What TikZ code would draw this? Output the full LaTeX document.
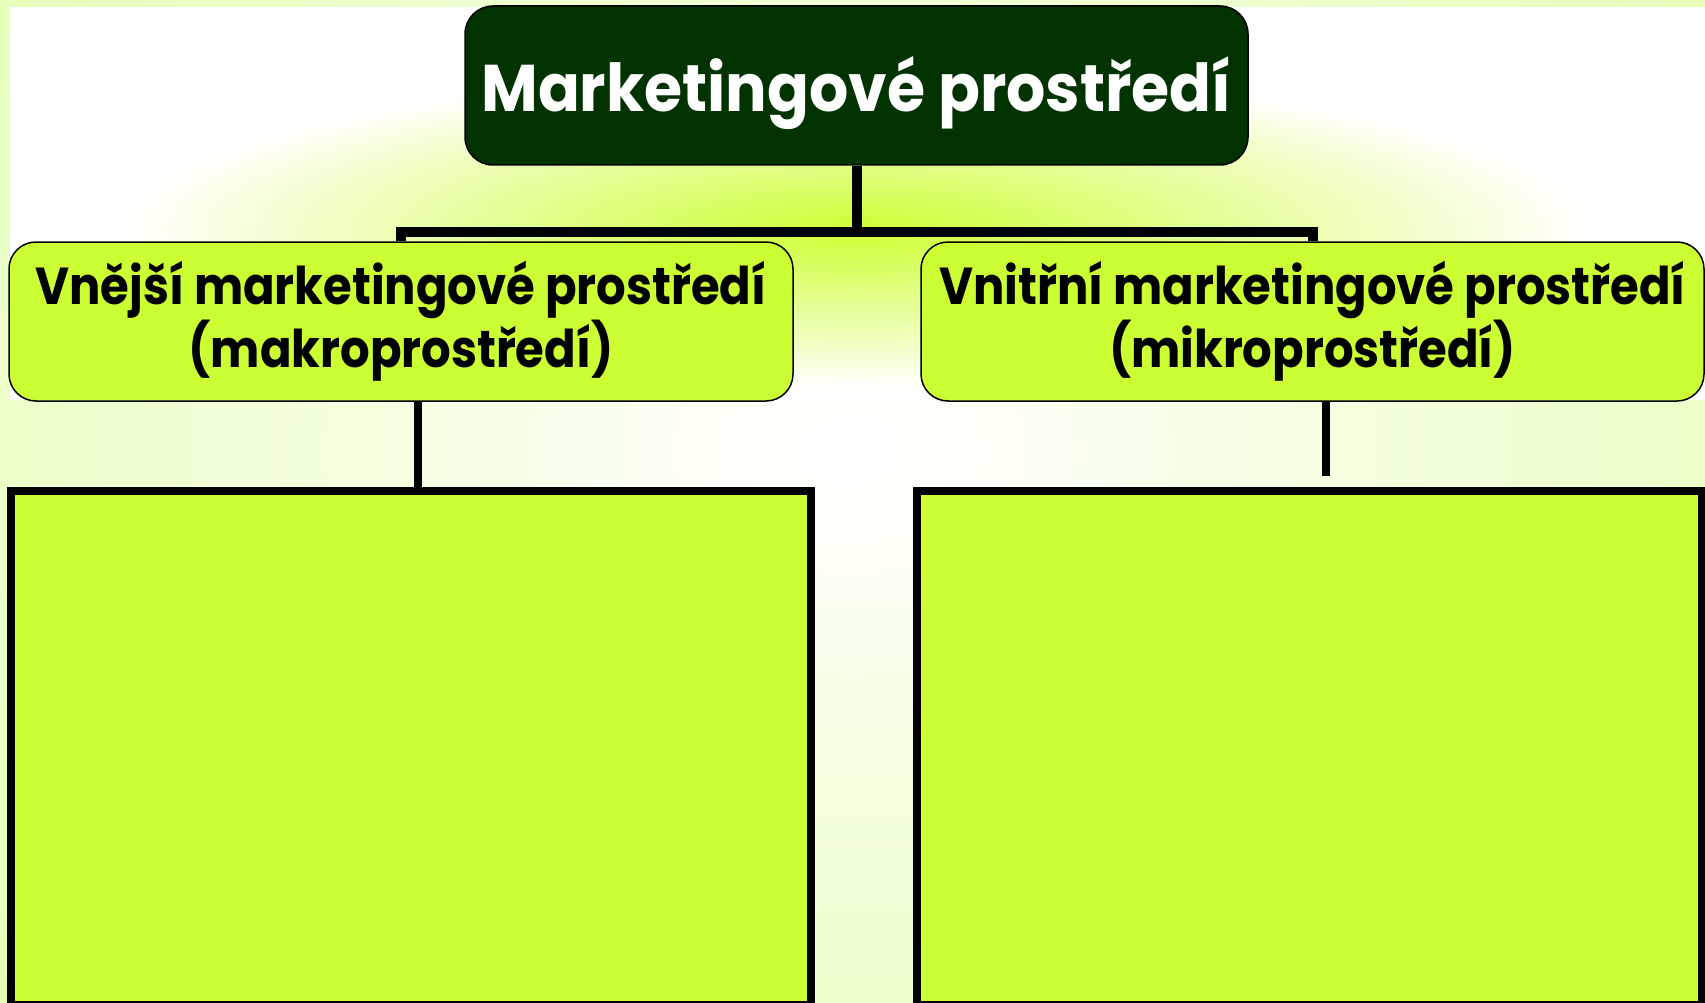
\documentclass[tikz,border=0pt]{standalone}
\usepackage{fontspec}
\newfontfamily\titlefont{Poppins}[FakeStretch=0.935]
\newfontfamily\popfont{Poppins}[FakeStretch=0.895]
\definecolor{boxgreen}{HTML}{CCFF33}
\definecolor{darkgreen}{HTML}{003300}
\definecolor{bgedge}{HTML}{E4FFB4}
\definecolor{glow}{HTML}{CCFF33}
\begin{document}
\begin{tikzpicture}[x=1pt,y=-1pt,
  titlebox/.style={draw=black, line width=1.5pt, fill=darkgreen, rounded corners=28pt,
    minimum width=783pt, minimum height=159pt, text=white, inner sep=0pt,
    font=\titlefont\bfseries\fontsize{66}{74}\selectfont},
  midbox/.style={draw=black, line width=1.5pt, fill=boxgreen, rounded corners=27pt,
    minimum height=159pt, align=center, inner sep=0pt,
    font=\popfont\bfseries\fontsize{52}{63}\selectfont},
  bigbox/.style={draw=black, line width=8pt, fill=boxgreen, minimum height=514pt},
  thickconn/.style={line width=10pt},
  thinconn/.style={line width=7.5pt}
]
\useasboundingbox (0,0) rectangle (1705,1003);
% background
\fill[bgedge] (0,0) rectangle (1705,1003);
\shade[inner color=white, outer color=bgedge] (850,450) ellipse (1150 and 800);
\fill[white] (10,7) rectangle (1705,400);
\shade[inner color=glow, outer color=white] (856,230) ellipse (740 and 160);
% nodes
\node[titlebox] (top) at (856.5,85.5) {\raisebox{-26pt}[0pt][0pt]{Marketingové prostředí}};
\node[midbox, minimum width=784pt] (lm) at (401,321.5) {Vnější marketingové prostředí\\(makroprostředí)};
\node[midbox, minimum width=783pt] (rm) at (1312.5,321.5) {Vnitřní marketingové prostředí\\(mikroprostředí)};
\node[bigbox, minimum width=800pt] (lb) at (411,748) {};
\node[bigbox, minimum width=785pt] (rb) at (1309.5,748) {};
% connectors
\coordinate (bar) at (0,232);
\coordinate (rend) at (1326,476);
\draw[thickconn] (top.south) -- (top.south |- bar);
\draw[thickconn] (lm.north) |- (top.south |- bar) -| (rm.north);
\draw[thinconn] ([xshift=17pt]lm.south) -- ([xshift=17pt]lm.south |- lb.north);
\draw[thinconn] (rm.south -| rend) -- (rend);
\end{tikzpicture}
\end{document}
